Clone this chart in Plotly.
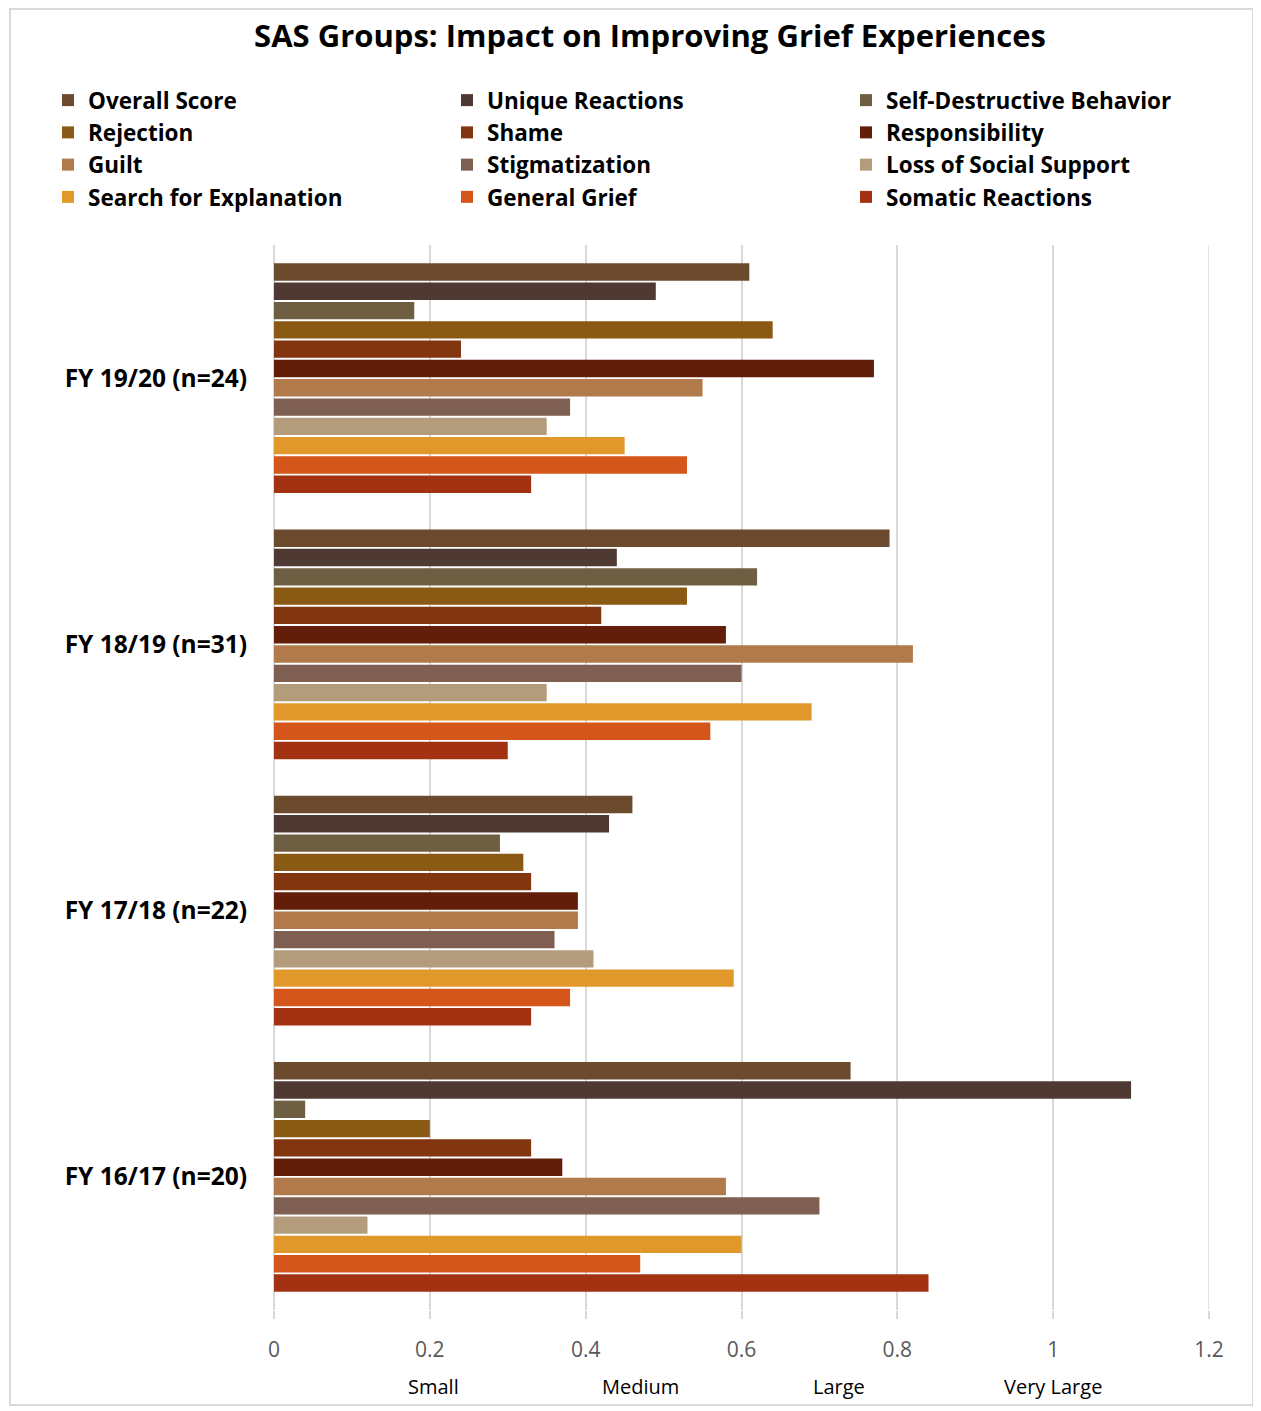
import plotly.graph_objects as go

# Categories (top to bottom)
categories = ["FY 19/20 (n=24)", "FY 18/19 (n=31)", "FY 17/18 (n=22)", "FY 16/17 (n=20)"]

series_names = [
    "Overall Score", "Unique Reactions", "Self-Destructive Behavior",
    "Rejection", "Shame", "Responsibility",
    "Guilt", "Stigmatization", "Loss of Social Support",
    "Search for Explanation", "General Grief", "Somatic Reactions",
]

# effect sizes per series, in category order above
overall_score = [0.61, 0.79, 0.46, 0.74]
unique_reactions = [0.49, 0.44, 0.43, 1.10]
self_destructive = [0.18, 0.62, 0.29, 0.04]
rejection = [0.64, 0.53, 0.32, 0.20]
shame = [0.24, 0.42, 0.33, 0.33]
responsibility = [0.77, 0.58, 0.39, 0.37]
guilt = [0.55, 0.82, 0.39, 0.58]
stigmatization = [0.38, 0.60, 0.36, 0.70]
loss_social_support = [0.35, 0.35, 0.41, 0.12]
search_explanation = [0.45, 0.69, 0.59, 0.60]
general_grief = [0.53, 0.56, 0.38, 0.47]
somatic_reactions = [0.33, 0.30, 0.33, 0.84]

series_values = [
    overall_score, unique_reactions, self_destructive,
    rejection, shame, responsibility,
    guilt, stigmatization, loss_social_support,
    search_explanation, general_grief, somatic_reactions,
]

colors = [
    "#6B4A2E", "#4E3A32", "#6E5E42",
    "#8A5A14", "#82350F", "#631E0A",
    "#B07A4A", "#7E5F52", "#B39C7C",
    "#E0982A", "#D4561A", "#A33213",
]

# effect size labels under the axis
effect_labels = ["Small", "Medium", "Large", "Very Large"]
effect_pos = [0.205, 0.47, 0.725, 1.0]

X_MAX = 1.2
FONT = "Open Sans"

fig = go.Figure()
for name, vals, col in zip(series_names, series_values, colors):
    fig.add_trace(go.Bar(
        y=categories, x=vals, name="<b>" + name + "</b>", orientation="h",
        marker=dict(color=col, line=dict(width=0)),
    ))

# page body has an 8px margin, so work in screen coords minus 8
OFF = 8
W, H = 1261 - OFF, 1411 - OFF
L, R, T, B = 274 - OFF, 52, 245 - OFF, 101
pw = W - L - R
ph = H - T - B

def px(x):
    return (x - OFF - L) / pw

def py(y):
    return (H - B - (y - OFF)) / ph

for lab, pos in zip(effect_labels, effect_pos):
    fig.add_annotation(x=pos, y=py(1386), xref="x", yref="paper", text=lab,
                       showarrow=False, font=dict(size=20, color="#000000", family=FONT),
                       yanchor="middle")

# last gridline at the range edge (plotly skips it)
fig.add_shape(type="line", xref="x", yref="paper", x0=X_MAX, x1=X_MAX, y0=0, y1=1,
              line=dict(color="#D9D9D9", width=1.5), layer="below")

# outer frame
fig.add_shape(type="rect", xref="paper", yref="paper",
              x0=px(10), x1=px(1253), y0=py(1405), y1=py(9),
              line=dict(color="#D9D9D9", width=2))

fig.update_layout(
    width=W, height=H,
    margin=dict(l=L, r=R, t=T, b=B),
    paper_bgcolor="white", plot_bgcolor="white",
    font=dict(family=FONT),
    title=dict(text="<b>SAS Groups: Impact on Improving Grief Experiences</b>",
               x=(650 - OFF) / W, xref="container", xanchor="center",
               y=1 - (36 - OFF) / H, yref="container", yanchor="middle",
               font=dict(size=31, color="#000000", family=FONT)),
    barmode="group", bargap=0.13, bargroupgap=0.1,
    legend=dict(orientation="h", x=px(48), xanchor="left", y=py(79), yanchor="top",
                xref="paper", yref="paper", bgcolor="rgba(0,0,0,0)",
                entrywidth=354, entrywidthmode="pixels",
                font=dict(size=22.5, color="#000000", family=FONT),
                traceorder="normal", itemclick=False),
    xaxis=dict(range=[0, X_MAX], dtick=0.2, showgrid=True, gridcolor="#D9D9D9", gridwidth=1.5,
               zeroline=True, zerolinecolor="#D9D9D9", zerolinewidth=1.5,
               ticks="outside", ticklen=8, tickcolor="#D9D9D9", tickwidth=1.5,
               tickfont=dict(size=21, color="#595959", family=FONT),
               ticklabelstandoff=13, showline=False, automargin=False),
    yaxis=dict(autorange="reversed", showgrid=False, ticks="", showline=False,
               tickfont=dict(size=24.5, color="#000000", family=FONT),
               ticklabelstandoff=26, automargin=False),
)

# bold category labels
fig.update_yaxes(tickmode="array", tickvals=categories,
                 ticktext=["<b>" + c + "</b>" for c in categories])

fig.write_html("out.html")
